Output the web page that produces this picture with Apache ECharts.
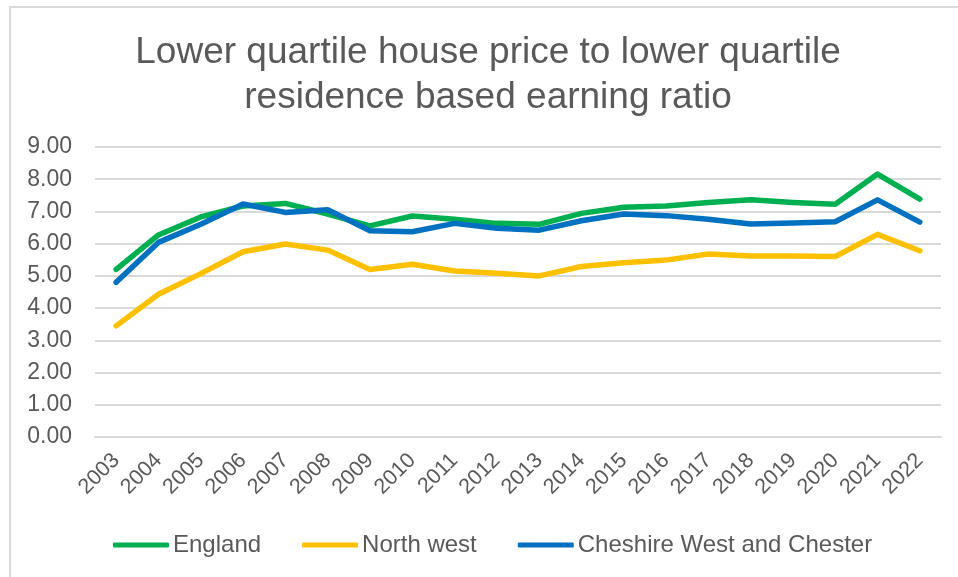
<!DOCTYPE html>
<html>
<head>
<meta charset="utf-8">
<script src="https://cdn.jsdelivr.net/npm/echarts@6/dist/echarts.min.js"></script>
<style>
  html, body { margin: 0; padding: 0; background: #fff; }
  #chart { width: 958px; height: 577px; }
</style>
</head>
<body>
<div id="chart"></div>
<script>
const years = ['2003', '2004', '2005', '2006', '2007', '2008', '2009', '2010', '2011', '2012',
  '2013', '2014', '2015', '2016', '2017', '2018', '2019', '2020', '2021', '2022']

const england = [5.20, 6.27, 6.83, 7.17, 7.25, 6.92, 6.55, 6.86, 6.76, 6.63,
  6.60, 6.94, 7.13, 7.17, 7.28, 7.36, 7.28, 7.22, 8.16, 7.38]
const northWest = [3.45, 4.43, 5.07, 5.75, 5.99, 5.80, 5.20, 5.36, 5.15, 5.08,
  5.00, 5.29, 5.41, 5.49, 5.68, 5.62, 5.62, 5.60, 6.29, 5.78]
const cheshire = [4.80, 6.04, 6.60, 7.23, 6.97, 7.05, 6.40, 6.37, 6.63, 6.48,
  6.42, 6.71, 6.92, 6.87, 6.76, 6.61, 6.64, 6.68, 7.36, 6.67]

const yTicks = [0, 1, 2, 3, 4, 5, 6, 7, 8, 9]

const titleText = 'Lower quartile house price to lower quartile\nresidence based earning ratio'

const textColor = '#595959'
const fontFamily = 'Liberation Sans, Arial, sans-serif'

function lineSeries(name, data, color) {
  return {
    name: name,
    type: 'line',
    data: data,
    symbol: 'none',
    smooth: false,
    lineStyle: { color: color, width: 5.5, cap: 'round', join: 'round' },
    itemStyle: { color: color }
  }
}

const chart = echarts.init(document.getElementById('chart'))
chart.setOption({
  animation: false,
  textStyle: { fontFamily: fontFamily },
  graphic: [{
    type: 'rect',
    shape: { x: 10, y: 7, width: 1000, height: 620 },
    style: { fill: 'none', stroke: '#d9d9d9', lineWidth: 2 },
    silent: true
  }, {
    // title drawn as text so it can sit slightly right of centre, like the original
    type: 'text',
    x: 488,
    y: 30,
    silent: true,
    style: {
      text: titleText,
      fill: textColor,
      font: '37px ' + fontFamily,
      lineHeight: 45,
      align: 'center',
      verticalAlign: 'top'
    }
  }],
  legend: {
    bottom: 15,
    left: 108,
    itemWidth: 56,
    itemHeight: 5,
    itemGap: 41,
    icon: 'roundRect',
    textStyle: { color: textColor, fontSize: 24, padding: [0, 0, 0, -1] },
    data: ['England', 'North west', 'Cheshire West and Chester']
  },
  grid: {
    left: 95,
    right: 17,
    top: 147,
    bottom: 140
  },
  xAxis: {
    type: 'category',
    data: years,
    boundaryGap: true,
    axisLine: { show: true, lineStyle: { color: '#d9d9d9', width: 2 } },
    axisTick: { show: false },
    axisLabel: {
      color: textColor,
      fontSize: 21.5,
      rotate: 45,
      interval: 0,
      margin: 20
    }
  },
  yAxis: {
    type: 'value',
    min: yTicks[0],
    max: yTicks[yTicks.length - 1],
    interval: 1,
    axisLine: { show: false },
    axisTick: { show: false },
    axisLabel: {
      color: textColor,
      fontSize: 23,
      margin: 23,
      formatter: v => v.toFixed(2)
    },
    splitLine: { lineStyle: { color: '#d9d9d9', width: 2 } }
  },
  series: [
    lineSeries('England', england, '#00b050'),
    lineSeries('North west', northWest, '#ffc000'),
    lineSeries('Cheshire West and Chester', cheshire, '#0070c0')
  ]
})
</script>
</body>
</html>
